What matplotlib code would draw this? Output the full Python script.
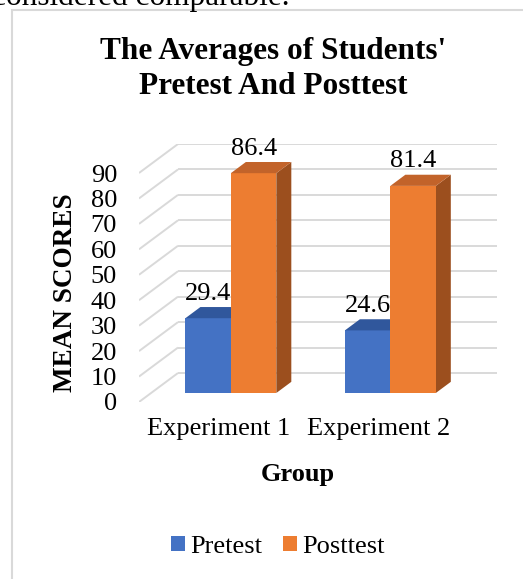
import matplotlib
matplotlib.use("Agg")
import matplotlib.pyplot as plt
from matplotlib.patches import Polygon, Patch, Rectangle

# chart data
groups = ["Experiment 1", "Experiment 2"]
series = ["Pretest", "Posttest"]
pretest = [29.4, 24.6]
posttest = [86.4, 81.4]
y_ticks = list(range(0, 100, 10))

# front / top / side shades for each series
face_colors = ["#4472C4", "#ED7D31"]
top_colors = ["#30579C", "#C2632A"]
side_colors = ["#2A4C88", "#9C4F1E"]

plt.rcParams["font.family"] = ["Liberation Serif", "DejaVu Serif"]

W, H = 523, 579
fig = plt.figure(figsize=(W / 100, H / 100), dpi=100)

# axes runs from the front-left floor corner to the back-right wall top
ax = fig.add_axes([139 / W, 1 - 402 / H, 358 / W, (402 - 144) / H])
depth_x = 0.2445   # floor depth, in category units
depth_y = 11.4     # floor depth, in value units
ax.set_xlim(-0.5, 1.5 + depth_x)
ax.set_ylim(0, 90 + depth_y)
for s in ax.spines.values():
    s.set_visible(False)
ax.patch.set_visible(False)

# side wall diagonals and back wall gridlines
grid_kw = dict(color="#D9D9D9", lw=1.4, zorder=0, solid_capstyle="butt")
for v in y_ticks:
    ax.plot([-0.5, -0.5 + depth_x], [v, v + depth_y], **grid_kw)
    ax.plot([-0.5 + depth_x, 1.5 + depth_x], [v + depth_y, v + depth_y], **grid_kw)

# 3d looking columns
bar_w = 0.285
f0, fd = 0.31, 0.385   # where the column starts in depth and how deep it is
ox, oy = f0 * depth_x, f0 * depth_y
bx, by = fd * depth_x, fd * depth_y
z = 2
for i, vals in enumerate(zip(pretest, posttest)):
    for j, v in enumerate(vals):
        x0 = i - bar_w + j * bar_w + ox
        x1 = x0 + bar_w
        side = [(x1, oy), (x1 + bx, oy + by), (x1 + bx, oy + by + v), (x1, oy + v)]
        front = [(x0, oy), (x1, oy), (x1, oy + v), (x0, oy + v)]
        top = [(x0, oy + v), (x1, oy + v), (x1 + bx, oy + v + by), (x0 + bx, oy + v + by)]
        ax.add_patch(Polygon(side, closed=True, fc=side_colors[j], ec="none", zorder=z))
        ax.add_patch(Polygon(front, closed=True, fc=face_colors[j], ec="none", zorder=z + 1))
        ax.add_patch(Polygon(top, closed=True, fc=top_colors[j], ec="none", zorder=z + 1))
        z += 2
        ax.text((x0 + x1) / 2, oy + by + v + 5.2, "{:}".format(v), ha="center", va="center",
                fontsize=19, zorder=20, clip_on=False)

ax.set_yticks(y_ticks)
ax.set_xticks([0, 1], groups)
ax.tick_params(axis="y", length=0, pad=15.8, labelsize=19)
ax.tick_params(axis="x", length=0, pad=11.5, labelsize=19)

fig.text(298 / W, 1 - 475 / H, "Group", ha="center", va="center", fontsize=19, fontweight="bold")
fig.text(66 / W, 1 - 293 / H, "MEAN SCORES", rotation=90, ha="center", va="center",
         fontsize=19.5, fontweight="bold")

fig.text(273 / W, 1 - 59.5 / H, "The Averages of Students'", ha="center", va="baseline",
         fontsize=22.5, fontweight="bold")
fig.text(273 / W, 1 - 94 / H, "Pretest And Posttest", ha="center", va="baseline",
         fontsize=22.5, fontweight="bold")

handles = [Patch(fc=c, ec="none") for c in face_colors]
fig.legend(handles, series, loc="center", bbox_to_anchor=(278 / W, 1 - 547 / H), ncol=2,
           frameon=False, fontsize=19, handlelength=0.53, handleheight=0.53,
           handletextpad=0.19, columnspacing=0.8, borderpad=0)

# chart frame (cut off on the right and bottom) and the document text above it
fig.add_artist(Rectangle((12 / W, -0.1), 1.2, 1 - 10 / H + 0.1, transform=fig.transFigure,
                         fill=False, ec="#D9D9D9", lw=1.5))
fig.text(290 / W, 1 - 5 / H, "considered comparable.", ha="right", va="baseline", fontsize=22.5)

fig.savefig("out.png", dpi=100)
